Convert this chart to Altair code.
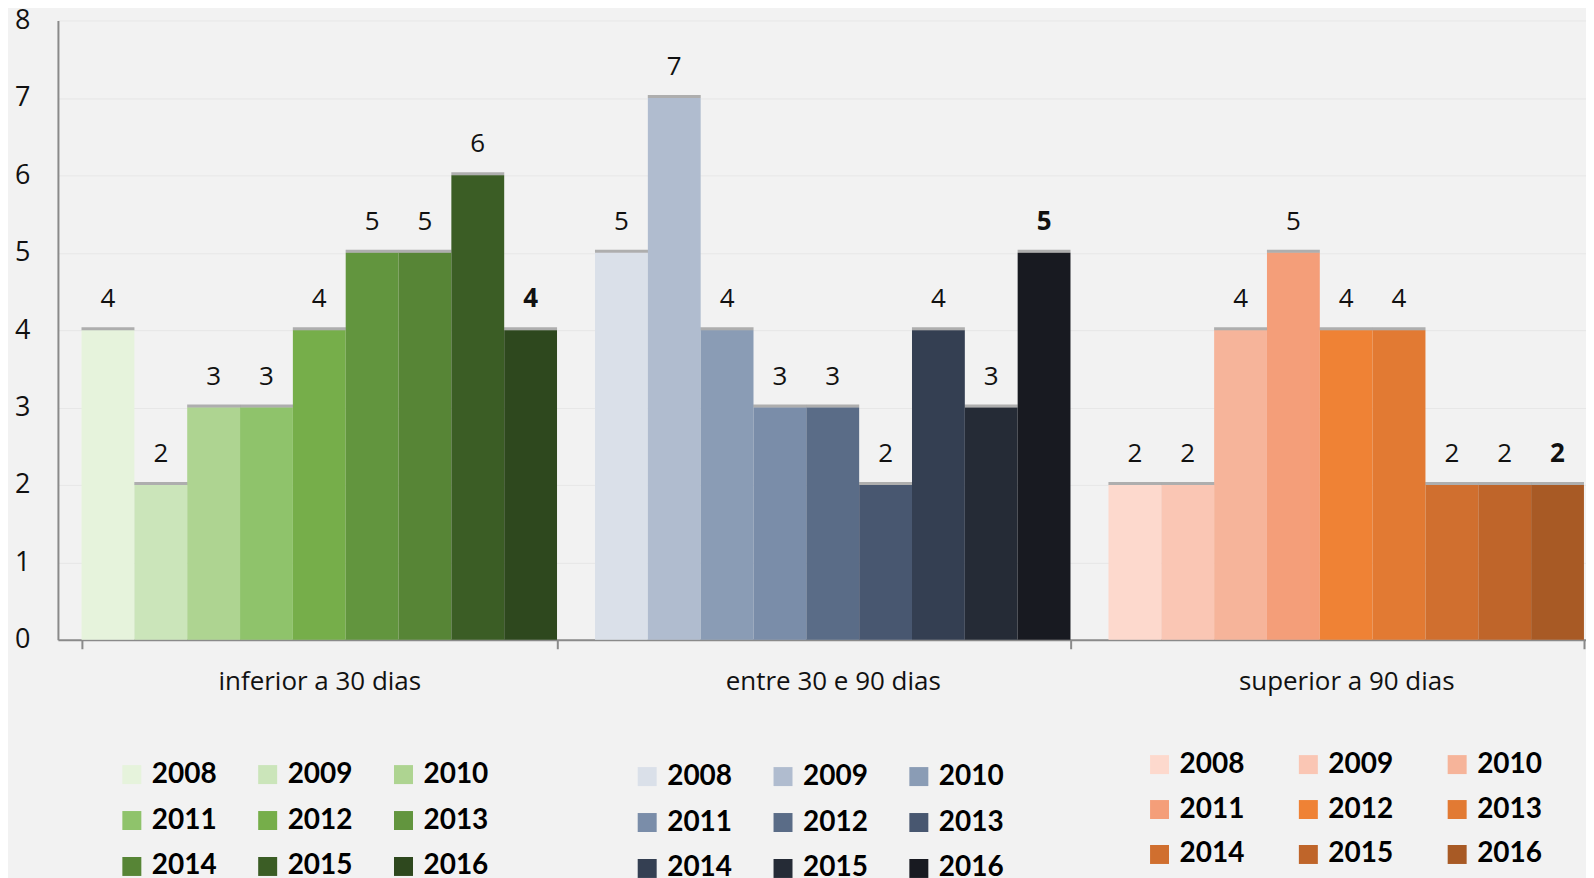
import altair as alt
import pandas as pd

categories = ["inferior a 30 dias", "entre 30 e 90 dias", "superior a 90 dias"]
years = ["2008", "2009", "2010", "2011", "2012", "2013", "2014", "2015", "2016"]
values_inferior = [4, 2, 3, 3, 4, 5, 5, 6, 4]
values_entre = [5, 7, 4, 3, 3, 2, 4, 3, 5]
values_superior = [2, 2, 4, 5, 4, 4, 2, 2, 2]

colors_green = ["#e6f3dc", "#cbe5ba", "#aed491", "#8fc36b", "#76ae4a",
                "#62953e", "#578536", "#3b5d25", "#2e481e"]
colors_blue = ["#dae0e9", "#b0bccf", "#8a9cb5", "#7a8da9", "#5a6c87",
               "#485770", "#343f52", "#252b36", "#181a21"]
colors_orange = ["#fdd9cd", "#fac6b4", "#f6b49a", "#f49e79", "#ef8235",
                 "#e27a33", "#d06f2f", "#bf652a", "#a85a25"]

series = [values_inferior, values_entre, values_superior]
palettes = [colors_green, colors_blue, colors_orange]
# legendX, legendY, columnPadding, rowPadding
legend_layout = [(60, 741, 37, 18), (576, 743, 37, 18), (1089, 731, 50, 17)]

rows = []
for c, vals in zip(categories, series):
    for yr, v in zip(years, vals):
        rows.append({"categoria": c, "ano": yr, "valor": v})
df = pd.DataFrame(rows)

x_enc = alt.X(
    "categoria:N", sort=categories, title=None,
    scale=alt.Scale(domain=categories, paddingInner=0.074, paddingOuter=0.025,
                    align=0.92),
)
xoff_enc = alt.XOffset(
    "ano:N", sort=years,
    scale=alt.Scale(domain=years, paddingInner=0, paddingOuter=0),
)
y_enc = alt.Y("valor:Q", title=None, scale=alt.Scale(domain=[0, 8], nice=False))

layers = []
for c, pal, (lx, ly, cp, rp) in zip(categories, palettes, legend_layout):
    base = alt.Chart(df).transform_filter(alt.datum.categoria == c)
    bars = base.mark_bar().encode(
        x=x_enc, xOffset=xoff_enc, y=y_enc,
        color=alt.Color(
            "ano:N", sort=years,
            scale=alt.Scale(domain=years, range=pal),
            legend=alt.Legend(
                title=None, orient="none", legendX=lx, legendY=ly,
                columns=3, direction="horizontal", symbolType="square",
                symbolSize=361, symbolStrokeWidth=0, labelFont="Lato",
                labelFontWeight="bold", labelFontSize=28, labelColor="#000000",
                labelOffset=6, columnPadding=cp, rowPadding=rp, padding=0,
            ),
        ),
    )
    edge = base.mark_tick(
        thickness=3, size=53, color="#000000", opacity=0.28, yOffset=-1.5
    ).encode(x=x_enc, xOffset=xoff_enc, y=y_enc)
    txt = base.transform_filter(alt.datum.ano != years[-1]).mark_text(
        font="Open Sans", fontSize=26, baseline="alphabetic", dy=-23, color="#111111"
    ).encode(x=x_enc, xOffset=xoff_enc, y=y_enc, text="valor:Q")
    txt_bold = base.transform_filter(alt.datum.ano == years[-1]).mark_text(
        font="Open Sans", fontSize=26, fontWeight="bold", baseline="alphabetic",
        dy=-23, color="#111111"
    ).encode(x=x_enc, xOffset=xoff_enc, y=y_enc, text="valor:Q")
    layers.append(alt.layer(bars, edge, txt, txt_bold))

chart = (
    alt.layer(*layers)
    .resolve_scale(color="independent")
    .properties(
        width=1530, height=620,
        padding={"left": 50, "top": 12, "right": 0, "bottom": 238},
        autosize=alt.AutoSizeParams(type="none"),
        background="#f2f2f2",
    )
    .configure_view(stroke=None)
    .configure_axisY(
        tickCount=8, grid=True, gridColor="#e7e7e7", gridWidth=1,
        domainColor="#8a8a8a", domainWidth=2, ticks=False, tickSize=0,
        labelPadding=28, labelFont="Open Sans", labelFontSize=27,
        labelColor="#111111",
    )
    .configure_axisX(
        grid=False, domainColor="#8a8a8a", domainWidth=2, ticks=True,
        tickBand="extent", tickSize=9, tickColor="#8a8a8a", tickWidth=2,
        labelPadding=20, labelFont="Open Sans", labelFontSize=26, labelLimit=500,
        labelColor="#111111", labelAngle=0,
    )
)

chart.save("out.html", embed_options={"renderer": "svg", "actions": False})
